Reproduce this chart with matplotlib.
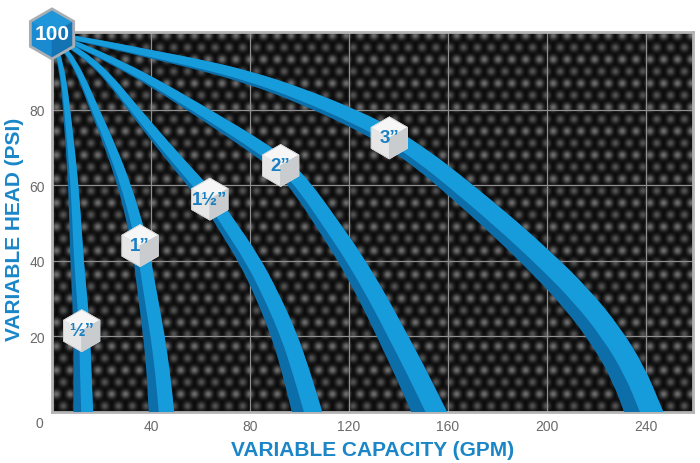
import numpy as np
import matplotlib
matplotlib.use("Agg")
import matplotlib.pyplot as plt
from matplotlib.patches import Polygon, PathPatch
from matplotlib.path import Path
from matplotlib.transforms import ScaledTranslation

plt.rcParams["font.family"] = ["Liberation Sans", "DejaVu Sans"]

# -----------------------
# Data
# -----------------------
HALF_X = [0, 1.5, 3.0, 4.6, 5.9, 7.3, 8.6, 9.4, 10.1, 11.2, 12.0, 12.3, 12.6]
HALF_Y = [100, 96.5, 93, 87.7, 80, 70, 60, 50, 40, 30, 21.5, 10, 0]

ONE_X = [0, 4.3, 8.3, 12.4, 17.2, 23.6, 29.3, 33.4, 35.6, 38.8, 41.2, 43, 44.2]
ONE_Y = [100, 96.5, 93, 87.7, 80, 70.1, 59.8, 50, 44, 30, 20, 10, 0]

ONE_HALF_X = [0, 8, 15.6, 23.5, 33, 45.5, 58.8, 63.8, 69, 80, 87.5, 94, 98.8, 103]
ONE_HALF_Y = [100, 96.5, 93, 88, 80, 70, 59.8, 56.3, 51, 40, 30, 20, 10, 0]

TWO_X = [0, 12, 24, 40, 60, 84, 92.4, 100.5, 114, 121, 129.8, 137.5, 144.8, 152.3]
TWO_Y = [100, 96.7, 93, 87.5, 79.5, 69.6, 65.2, 60, 47, 40, 29.9, 20, 10.5, 0]

THREE_X = [0, 20, 40, 60, 80, 100, 120, 136.3, 150, 160, 180, 197, 212, 224, 233, 239]
THREE_Y = [100, 97.5, 94.6, 91.8, 88.4, 83.8, 78.2, 72.8, 66.6, 61.4, 50.3, 40, 30, 20, 10, 0]

PIPE_LABELS = ["\u00bd\u201d", "1\u201d", "1\u00bd\u201d", "2\u201d", "3\u201d"]
LABEL_X = [12.0, 35.6, 63.8, 92.4, 136.3]
LABEL_Y = [21.5, 44, 56.3, 65.2, 72.5]

X_TICKS = [40, 80, 120, 160, 200, 240]
Y_TICKS = [20, 40, 60, 80]
MAX_HEAD = 100

BRIGHT = "#179cdb"
DARK = "#0c6fa9"
LABEL_BLUE = "#1a86c8"

# -----------------------
# Figure / axes
# -----------------------
fig = plt.figure(figsize=(7, 4.64), dpi=100)
ax = fig.add_axes([52 / 700, 1 - 413 / 464, (693 - 52) / 700, (413 - 33) / 464])
XMAX, YMAX = 259, 100.5

# carbon fibre background
H, W = 380, 641
yy, xx = np.mgrid[0:H, 0:W].astype(float)
sx = 13.8
sy = sx * np.sqrt(3) / 2
sig = 3.0


def blob(ox, oy):
    dx = (xx - ox) % sx
    dx = np.minimum(dx, sx - dx)
    dy = (yy - oy) % (2 * sy)
    dy = np.minimum(dy, 2 * sy - dy)
    return np.exp(-(dx ** 2 + dy ** 2) / (2 * sig ** 2))


tex = 0.025 + 0.40 * blob(4, 3) + 0.30 * blob(4 + sx / 2, 3 + sy)
tex = np.clip(tex, 0, 1)
rgb = np.dstack([tex, tex, tex])
ax.imshow(rgb, extent=[0, XMAX, 0, YMAX], aspect="auto", origin="upper",
          interpolation="bilinear", zorder=0)

ax.set_xlim(0, XMAX)
ax.set_ylim(0, YMAX)

for xv in X_TICKS:
    ax.axvline(xv, color="#8e8e8e", lw=0.9, zorder=1)
for yv in Y_TICKS:
    ax.axhline(yv, color="#8e8e8e", lw=0.9, zorder=1)

for sp in ax.spines.values():
    sp.set_color("#b4b4b4")
    sp.set_linewidth(2)

ax.set_xticks(X_TICKS)
ax.set_yticks(Y_TICKS)
ax.tick_params(length=0, labelsize=10, labelcolor="#6a6a6a")
ax.tick_params(axis="x", pad=5)
ax.tick_params(axis="y", pad=5)
ax.annotate("0", xy=(0, 0), xytext=(-9, -8), textcoords="offset points",
            ha="center", va="center", fontsize=10, color="#6a6a6a",
            annotation_clip=False)

ax.set_xlabel("VARIABLE CAPACITY (GPM)", fontsize=15, fontweight="bold",
              color=LABEL_BLUE, va="center")
ax.xaxis.set_label_coords(0.5, -0.1)
ax.set_ylabel("VARIABLE HEAD (PSI)", fontsize=15, fontweight="bold",
              color=LABEL_BLUE, va="center")
ax.yaxis.set_label_coords(-0.058, 0.483)


# -----------------------
# Bands
# -----------------------
def smooth_path(p):
    # quadratic pieces through midpoints, read points act as control points
    verts = [p[0], (p[0] + p[1]) / 2]
    codes = [Path.MOVETO, Path.LINETO]
    for i in range(1, len(p) - 1):
        verts += [p[i], (p[i] + p[i + 1]) / 2]
        codes += [Path.CURVE3, Path.CURVE3]
    verts.append(p[-1])
    codes.append(Path.LINETO)
    return verts, codes


def band_patch(side_a, side_b, color):
    va, ca = smooth_path(side_a)
    vb, cb = smooth_path(side_b[::-1])
    cb[0] = Path.LINETO
    verts = va + vb + [va[0]]
    codes = ca + cb + [Path.CLOSEPOLY]
    inv = ax.transData.inverted()
    path = Path(inv.transform(np.array(verts)), codes)
    return PathPatch(path, fc=color, ec="none", zorder=3)


def draw_band(xs, ys, w0, w1):
    pts = ax.transData.transform(np.column_stack([xs, ys]))
    tan = np.gradient(pts, axis=0)
    tan /= np.hypot(tan[:, 0], tan[:, 1])[:, None]
    # stretch past the frame so the clip edge is flat
    pts = np.vstack([pts, pts[-1] + tan[-1] * 30])
    tan = np.vstack([tan, tan[-1]])
    seg = np.hypot(*np.diff(pts, axis=0).T)
    s = np.concatenate([[0], np.cumsum(seg)])
    t = s / s[-1]
    nrm = np.column_stack([tan[:, 1], -tan[:, 0]])
    w = (w0 + (w1 - w0) * t)[:, None]
    dark = (0.12 + 0.3 * t)[:, None]
    outer = pts - nrm * w / 2
    inner = pts + nrm * w / 2
    mid = pts + nrm * (w / 2 - dark * w)
    ax.add_patch(band_patch(outer, inner, DARK))
    ax.add_patch(band_patch(outer, mid, BRIGHT))


draw_band(HALF_X, HALF_Y, 4, 21)
draw_band(ONE_X, ONE_Y, 4, 27)
draw_band(ONE_HALF_X, ONE_HALF_Y, 4, 31)
draw_band(TWO_X, TWO_Y, 4, 34)
draw_band(THREE_X, THREE_Y, 4, 38)


# -----------------------
# Hexagon badges
# -----------------------
def hexagon(x, y, r_px, top, left, right, edge, lw):
    trans = fig.dpi_scale_trans + ScaledTranslation(x, y, ax.transData)
    ang = np.deg2rad([90, 30, -30, -90, -150, 150])
    v = (r_px / 100.0) * np.column_stack([np.cos(ang), np.sin(ang)])
    c = np.zeros(2)
    faces = [([c, v[5], v[0], v[1]], top),
             ([c, v[3], v[4], v[5]], left),
             ([c, v[1], v[2], v[3]], right)]
    for verts, col in faces:
        ax.add_patch(Polygon(np.array(verts), closed=True, fc=col, ec=col, lw=0.5,
                             transform=trans, clip_on=False, zorder=5))
    ax.add_patch(Polygon(v, closed=True, fc="none", ec=edge, lw=lw,
                         transform=trans, clip_on=False, zorder=5))


for lx, ly, lab in zip(LABEL_X, LABEL_Y, PIPE_LABELS):
    hexagon(lx, ly, 21, "#f6f6f6", "#e6e6e6", "#c9ccce", "#d0d0d0", 0.6)
    ax.text(lx, ly, lab, ha="center", va="center", fontsize=13.5,
            fontweight="bold", color="#1a80c2", zorder=6)

hexagon(0, MAX_HEAD, 25, "#1f95da", "#1a8bd0", "#1474b3", "#a8aeb3", 2)
ax.text(0, MAX_HEAD, str(MAX_HEAD), ha="center", va="center", fontsize=15,
        fontweight="bold", color="white", zorder=6, clip_on=False)

fig.savefig("out.png", dpi=100, facecolor="white")
